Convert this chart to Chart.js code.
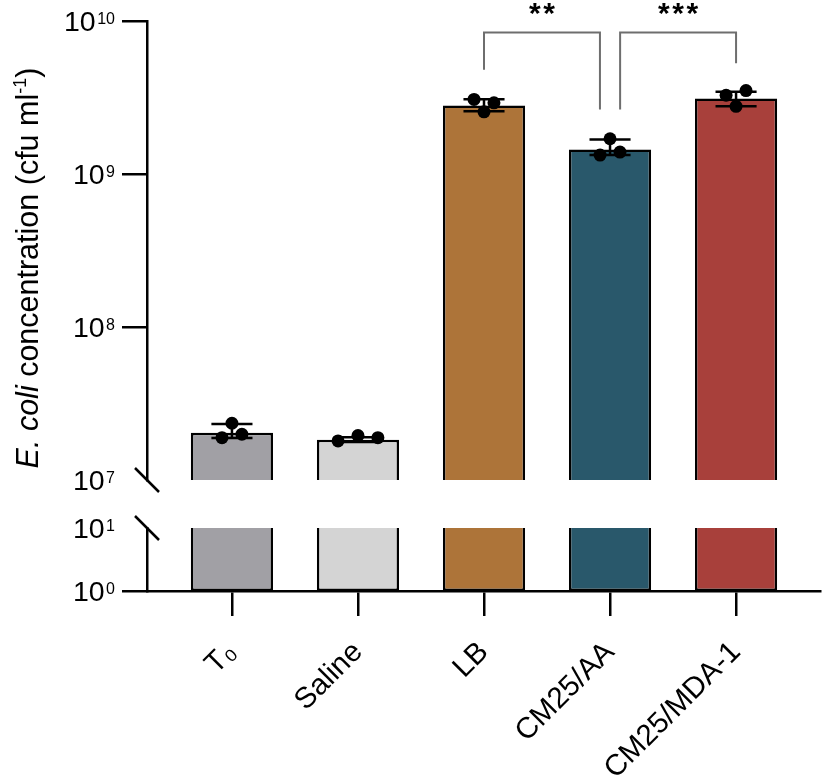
<!DOCTYPE html>
<html><head><meta charset="utf-8">
<script src="https://cdn.jsdelivr.net/npm/chart.js@4.4.1/dist/chart.umd.min.js"></script>
<style>html,body{margin:0;padding:0;background:#fff}#wrap{width:827px;height:778px;position:relative}</style>
</head><body><div id="wrap"><canvas id="c"></canvas></div>
<script>
// ---------- data ----------
const categories = ['T\u2080', 'Saline', 'LB', 'CM25/AA', 'CM25/MDA-1'];
const barMeans   = [2.04e7, 1.83e7, 2.80e9, 1.445e9, 3.11e9];
const errHigh    = [2.32e7, 1.90e7, 3.08e9, 1.68e9, 3.45e9];
const errLow     = [1.88e7, 1.77e7, 2.57e9, 1.33e9, 2.77e9];
const repT0      = [2.35e7, 1.89e7, 1.99e7];
const repSaline  = [1.80e7, 1.95e7, 1.89e7];
const repLB      = [3.07e9, 2.92e9, 2.55e9];
const repAA      = [1.70e9, 1.33e9, 1.39e9];
const repMDA     = [3.27e9, 3.51e9, 2.77e9];
const replicates = [repT0, repSaline, repLB, repAA, repMDA];
const upperTicks = [1e7, 1e8, 1e9, 1e10];
const lowerTicks = [1, 10];
const comparisons = [{from: 2, to: 3, label: '**'}, {from: 3, to: 4, label: '***'}];
const bracketTop  = [8.4e9, 8.4e9];
const bracketEnds = [[4.8e9, 2.64e9], [2.64e9, 5.3e9]];
const barColors  = ['#a1a0a5', '#d4d4d4', '#ad7439', '#29586b', '#a8403b'];

// ---------- style / layout constants ----------
const FAMILY = "'Liberation Sans', Arial, Helvetica, sans-serif";
const DOT_STEP = 0.158;   // horizontal spacing of replicate dots (x units)
const ROW_TOL = 0.065;    // decades: dots closer than this share a row
const AXIS_W = 2.5;

function swarmOffsets(vals) {
  const order = vals.map((v, i) => i).sort((a, b) => vals[b] - vals[a]);
  const rows = [];
  order.forEach(i => {
    const r = rows[rows.length - 1];
    if (r && Math.log10(vals[r[0]]) - Math.log10(vals[i]) < ROW_TOL) r.push(i); else rows.push([i]);
  });
  const off = new Array(vals.length).fill(0);
  rows.forEach(r => { r.sort((a, b) => a - b); r.forEach((i, k) => { off[i] = (k - (r.length - 1) / 2) * DOT_STEP; }); });
  return off;
}

const pointData = [];
replicates.forEach((vals, i) => {
  const off = swarmOffsets(vals);
  vals.forEach((v, j) => pointData.push({x: i + off[j], y: v}));
});
const upperBars = barMeans.map((m, i) => ({x: i, y: [upperTicks[0], m]}));
const lowerBars = barMeans.map((m, i) => ({x: i, y: [lowerTicks[0], lowerTicks[lowerTicks.length - 1]]}));

// ---------- plugins ----------
const decorations = {
  id: 'decorations',
  afterDatasetsDraw(chart) {
    const ctx = chart.ctx, yU = chart.scales.yUpper;
    const meta = chart.getDatasetMeta(1);
    ctx.save();
    ctx.strokeStyle = '#000'; ctx.lineWidth = AXIS_W; ctx.lineCap = 'butt';
    barMeans.forEach((m, i) => {
      const bar = meta.data[i];
      const cx = bar.x, hw = bar.width * 0.25;
      const yh = yU.getPixelForValue(errHigh[i]), yl = yU.getPixelForValue(errLow[i]);
      ctx.beginPath();
      ctx.moveTo(cx, yh); ctx.lineTo(cx, yl);
      ctx.moveTo(cx - hw, yh); ctx.lineTo(cx + hw, yh);
      ctx.moveTo(cx - hw, yl); ctx.lineTo(cx + hw, yl);
      ctx.stroke();
    });
    ctx.restore();
  },
  afterDraw(chart) {
    const ctx = chart.ctx, x = chart.scales.x, yU = chart.scales.yUpper, yL = chart.scales.yLower;
    const axisX = chart.chartArea.left;
    ctx.save();
    // y tick labels with superscript exponents
    const drawPow = (value, py) => {
      const exp = String(Math.round(Math.log10(value)));
      const xr = axisX - 25 - 7;
      ctx.fillStyle = '#000'; ctx.textAlign = 'left'; ctx.textBaseline = 'alphabetic';
      ctx.font = '16px ' + FAMILY;
      const sw = ctx.measureText(exp).width;
      ctx.fillText(exp, xr - sw, py + 3);
      ctx.font = '28.5px ' + FAMILY;
      const bw = ctx.measureText('10').width;
      ctx.fillText('10', xr - sw - 1.5 - bw, py + 10);
    };
    yU.ticks.forEach(t => drawPow(t.value, yU.getPixelForValue(t.value)));
    yL.ticks.forEach(t => drawPow(t.value, yL.getPixelForValue(t.value)));
    // axis break marks
    ctx.strokeStyle = '#000'; ctx.lineWidth = AXIS_W;
    [yU.getPixelForValue(upperTicks[0]), yL.getPixelForValue(lowerTicks[lowerTicks.length - 1])].forEach(py => {
      ctx.beginPath(); ctx.moveTo(axisX - 12, py - 12); ctx.lineTo(axisX + 12, py + 12); ctx.stroke();
    });
    // significance brackets
    const used = {};
    comparisons.forEach(c => { used[c.from] = (used[c.from] || 0) + 1; used[c.to] = (used[c.to] || 0) + 1; });
    ctx.strokeStyle = '#6e6e6e'; ctx.lineWidth = 2;
    comparisons.forEach((c, k) => {
      const xa = x.getPixelForValue(c.from + (used[c.from] > 1 ? 0.08 : 0));
      const xb = x.getPixelForValue(c.to - (used[c.to] > 1 ? 0.08 : 0));
      const yt = yU.getPixelForValue(bracketTop[k]);
      const ya = yU.getPixelForValue(bracketEnds[k][0]);
      const yb = yU.getPixelForValue(bracketEnds[k][1]);
      ctx.beginPath();
      ctx.moveTo(xa, ya); ctx.lineTo(xa, yt); ctx.lineTo(xb, yt); ctx.lineTo(xb, yb);
      ctx.stroke();
      ctx.fillStyle = '#000'; ctx.font = 'bold 30px ' + FAMILY; ctx.textAlign = 'center'; ctx.textBaseline = 'alphabetic';
      const n = c.label.length, step = 14.3, mid = (xa + xb) / 2;
      for (let s = 0; s < n; s++) ctx.fillText(c.label[s], mid + (s - (n - 1) / 2) * step, yt - 10);
    });
    // y axis title with italic species name and superscript
    const parts = [
      {t: 'E. coli', f: 'italic 30.5px ' + FAMILY, dy: 0},
      {t: ' concentration (cfu ml', f: '30.5px ' + FAMILY, dy: 0},
      {t: '-1', f: '18px ' + FAMILY, dy: -12.5},
      {t: ')', f: '30.5px ' + FAMILY, dy: 0}
    ];
    let total = 0;
    parts.forEach(p => { ctx.font = p.f; p.w = ctx.measureText(p.t).width; total += p.w; });
    ctx.translate(38, 268); ctx.rotate(-Math.PI / 2);
    ctx.fillStyle = '#000'; ctx.textAlign = 'left'; ctx.textBaseline = 'alphabetic';
    let cx = -total / 2;
    parts.forEach(p => { ctx.font = p.f; ctx.fillText(p.t, cx, p.dy); cx += p.w; });
    ctx.restore();
  }
};

const hideTick = (val) => (c) => (c.tick && c.tick.value === val ? 'rgba(0,0,0,0)' : '#000');

new Chart(document.getElementById('c'), {
  type: 'bar',
  data: {
    datasets: [
      {type: 'scatter', data: pointData, xAxisID: 'x', yAxisID: 'yUpper', order: 0,
       pointRadius: 6.5, pointBackgroundColor: '#000', pointBorderWidth: 0, showLine: false},
      {data: upperBars, xAxisID: 'x', yAxisID: 'yUpper', order: 1, backgroundColor: barColors,
       borderColor: '#000', borderWidth: 2.5, borderSkipped: 'bottom', categoryPercentage: 1, barPercentage: 0.652},
      {data: lowerBars, xAxisID: 'x', yAxisID: 'yLower', order: 1, backgroundColor: barColors,
       borderColor: '#000', borderWidth: 2.5, borderSkipped: 'top', categoryPercentage: 1, barPercentage: 0.652}
    ]
  },
  options: {
    responsive: true, maintainAspectRatio: false, animation: false,
    layout: {padding: {top: 21, right: 2, left: 0, bottom: 0}},
    plugins: {legend: {display: false}, tooltip: {enabled: false}},
    scales: {
      yLower: {
        type: 'logarithmic', position: 'left', stack: 'ys', stackWeight: 63, min: lowerTicks[0], max: lowerTicks[lowerTicks.length - 1],
        afterBuildTicks: s => { s.ticks = lowerTicks.map(v => ({value: v})); },
        afterFit: s => { s.width = 147; },
        grid: {display: true, drawOnChartArea: false, tickLength: 25, lineWidth: AXIS_W, tickWidth: AXIS_W,
               color: hideTick(lowerTicks[lowerTicks.length - 1]), tickColor: hideTick(lowerTicks[lowerTicks.length - 1])},
        border: {display: true, color: '#000', width: AXIS_W},
        ticks: {display: false}
      },
      yGap: {
        type: 'linear', position: 'left', stack: 'ys', stackWeight: 48, display: true,
        afterFit: s => { s.width = 147; },
        grid: {display: false}, border: {display: false}, ticks: {display: false}
      },
      yUpper: {
        type: 'logarithmic', position: 'left', stack: 'ys', stackWeight: 459, min: upperTicks[0], max: upperTicks[upperTicks.length - 1],
        afterBuildTicks: s => { s.ticks = upperTicks.map(v => ({value: v})); },
        afterFit: s => { s.width = 147; },
        grid: {display: true, drawOnChartArea: false, tickLength: 25, lineWidth: AXIS_W, tickWidth: AXIS_W,
               color: hideTick(upperTicks[0]), tickColor: hideTick(upperTicks[0])},
        border: {display: true, color: '#000', width: AXIS_W},
        ticks: {display: false}
      },
      x: {
        type: 'linear', min: -0.674, max: 4.67, offset: false, stacked: true,
        afterBuildTicks: s => { s.ticks = categories.map((c, i) => ({value: i})); },
        afterFit: s => { s.height = 187; },
        grid: {display: true, drawOnChartArea: false, drawTicks: true, tickLength: 25, color: '#000', tickColor: '#000', lineWidth: AXIS_W, tickWidth: AXIS_W, offset: false},
        border: {display: true, color: '#000', width: AXIS_W},
        ticks: {autoSkip: false, maxRotation: 45, minRotation: 45, padding: 19, color: '#000',
                font: {family: FAMILY, size: 29.5}, callback: (v) => categories[Math.round(v)]}
      }
    }
  },
  plugins: [decorations]
});
</script></body></html>
